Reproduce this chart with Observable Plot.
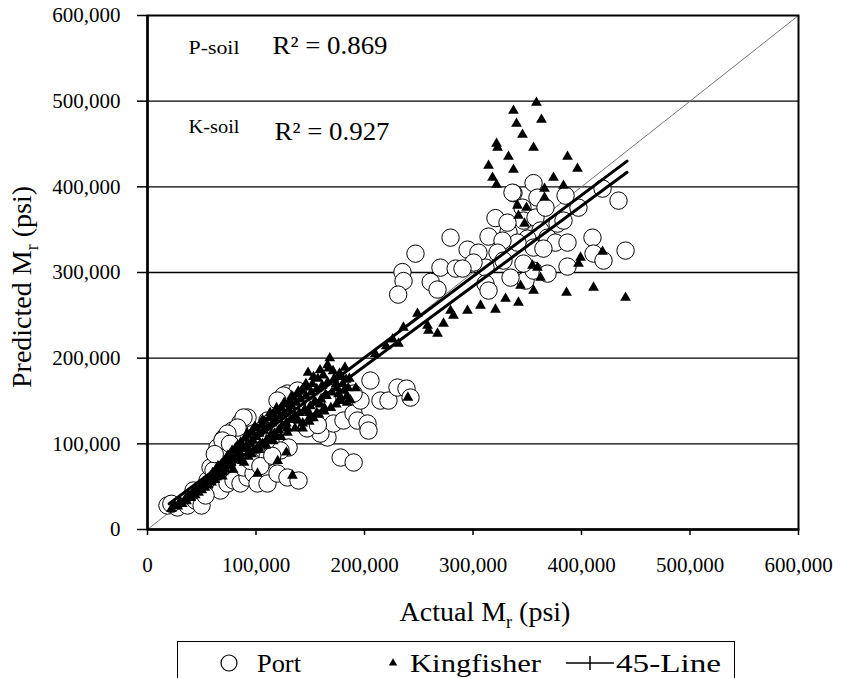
<!DOCTYPE html>
<html>
<head>
<meta charset="utf-8">
<script src="https://cdn.jsdelivr.net/npm/d3@7"></script>
<script src="https://cdn.jsdelivr.net/npm/@observablehq/plot@0.6"></script>
<style>
  html, body { margin: 0; padding: 0; background: white; }
  #wrap { position: relative; width: 841px; height: 678px; overflow: hidden; background: white; }
  #legend { position: absolute; left: 177px; top: 641px; width: 556px; height: 60px; border: 1.5px solid black; background: white; }
  svg text { font-family: "Liberation Serif", "Times New Roman", serif !important; }
</style>
</head>
<body>
<div id="wrap">
  <div id="chart"></div>
  <div id="legend"></div>
</div>
<script>
// ---- Data (values in thousands of psi) ----
const axisTicks = [0, 100, 200, 300, 400, 500, 600];
const gridLevels = [100, 200, 300, 400, 500];

// Port (P-soil) — open circles
const portActual = [
  247, 279.3, 235, 236, 231, 261, 267.3, 270, 284, 295, 305, 314.3, 320.7, 332.7, 337.3, 355.8, 359.4, 345.6, 346.5, 357.6,
  366.8, 362.2, 368.7, 350.2, 355.8, 341.0, 327.2, 322.6, 311.5, 300.5, 290.3, 311.5, 314.3, 348.4, 355.8, 368.7, 376.0, 387.1,
  387.1, 377.9, 385.3, 397.2, 383.4, 410.1, 411.1, 420.3, 419.4, 434.1, 440.6, 364.9, 346.5, 328.1, 334.6, 331.8, 336.4,
  18.4, 27.6, 36.9, 44.2, 42.4, 55.3, 58.1, 67.3, 64.5, 70.0, 78.3, 85.7, 92.2, 79.3, 85.7, 70.0, 67.3, 73.7, 79.3, 85.7,
  92.2, 88.5, 97.7, 106.9, 101.4, 110.6, 110.6, 116.1, 119.8, 129.0, 139.2, 113.4, 101.4, 110.6, 122.6, 129.0, 138.2, 138.2,
  152.9, 165.9, 165.9, 159.4, 171.4, 180.6, 189.9, 193.5, 196.3, 189.9, 205.5, 202.8, 203.7, 214.7, 222.1, 230.4, 238.7,
  178.0, 190.0, 49.8, 22.0, 60.8, 53.5, 242.4, 88.5, 83.0, 73.7, 69.1, 125.3, 119.8, 130.0, 122.6,
  62, 76, 95, 104, 115, 147, 157
];
const portPredicted = [
  322, 340.7, 300.5, 290, 274.2, 289, 280.1, 305.7, 304.6, 326.7, 323.2, 341.9, 363.5, 347.1, 392.6, 404.3, 387.4, 375.7, 360.6, 364.1,
  375.7, 349.0, 340.7, 339.6, 329.1, 334.9, 337.2, 323.2, 305.7, 311.6, 304.6, 287.0, 278.9, 290.5, 302.2, 298.7, 334.9, 334.9,
  306.9, 357.1, 389.7, 375.7, 360.6, 340.7, 322.1, 313.9, 397.9, 383.9, 325.6, 327.9, 310.4, 313.9, 294.0, 358.2, 393.2,
  28.0, 25.7, 28.0, 33.8, 45.5, 57.2, 72.4, 80.5, 95.7, 106.2, 115.5, 124.9, 130.7, 95.7, 107.4, 92.2, 45.5, 53.7, 57.2, 53.7,
  60.7, 72.4, 65.3, 65.3, 53.7, 53.7, 84.0, 92.2, 65.3, 60.7, 57.2, 102.7, 112.0, 127.2, 135.4, 158.7, 162.2, 147.0,
  142.4, 150.5, 107.4, 112.0, 123.7, 127.2, 135.4, 127.2, 150.5, 158.7, 173.9, 123.7, 115.5, 150.5, 150.5, 165.7, 164.5,
  84.0, 78.2, 28.0, 30.0, 68.9, 39.7, 154.0, 130.7, 119.0, 112.0, 103.9, 156.4, 150.5, 95.7, 92.2,
  88, 100, 80, 74, 86, 118, 122
];

// Kingfisher (K-soil) — filled triangles
const kingActual = [
  337.3, 358.5, 363.1, 340.1, 345.6, 321.7, 322.6, 355.8, 332.7, 314.3, 337.3, 387.1, 396.3, 374.2, 318.0, 321.7, 383.4, 365.9,
  365.9, 341.0, 349.3, 341.9, 347.5, 399.1, 397.2, 419.4, 359.4, 362.2, 354.8, 343.8, 355.8, 386.2, 411.1, 440.6, 330.0, 341.9,
  306.9, 320.7, 294.9, 279.3, 282.0, 272.8, 267.3, 258.1, 248.8, 235.9, 231.3, 259.0,
  22, 25, 28, 30, 32, 35, 36, 38, 40, 42, 44, 45, 47, 48, 50, 52, 53, 55, 56, 58, 59, 60, 62, 63, 64, 66, 67, 68, 70, 71, 72, 73,
  75, 76, 77, 78, 80, 81, 82, 83, 85, 86, 87, 88, 90, 91, 92, 93, 95, 96, 97, 98, 100, 101, 102, 103, 105, 106, 107, 108, 110,
  111, 112, 113, 115, 116, 117, 118, 120, 121, 122, 123, 125, 126, 127, 128, 130, 131, 132, 133, 135, 136, 137, 138, 140, 141,
  142, 143, 145, 146, 147, 148, 149, 150, 151, 152, 153, 155, 156, 157, 158, 160, 161, 162, 163, 165, 166, 167, 168, 169, 170,
  172, 174, 175, 177, 178, 180, 182, 184, 186,
  101.4, 133.6, 120, 128, 178, 184, 187, 192, 240, 210, 220, 226,
  84, 94, 104, 114, 124, 134, 144, 154, 164, 109, 119, 129, 139, 149, 159,
  92, 96, 99, 103, 106, 109, 113, 116, 119, 123, 126, 129, 133, 136, 139, 143, 146, 149, 153, 156, 159, 163, 166, 171, 174,
  176, 179, 181, 183, 185, 65, 69, 74, 79, 84, 89
];
const kingPredicted = [
  488.9, 498.2, 478.4, 473.7, 460.9, 450.4, 445.7, 445.7, 435.2, 424.7, 420.1, 435.2, 421.2, 410.7, 410.7, 402.6, 401.4, 397.9,
  387.4, 378.1, 375.7, 366.4, 357.1, 317.4, 310.4, 324.4, 305.7, 294.0, 308.1, 284.7, 278.9, 276.5, 282.4, 270.7, 269.5, 264.9,
  261.4, 256.7, 255.5, 255.5, 249.7, 240.4, 228.7, 238.0, 252.0, 235.7, 217.0, 232.2,
  24, 28, 27, 33, 30, 36, 33, 40, 37, 44, 40, 47, 43, 50, 46, 55, 49, 58, 52, 62, 55, 66, 58, 70, 61, 72, 64, 76, 67, 80, 70, 84,
  74, 88, 78, 92, 82, 95, 86, 98, 90, 102, 80, 94, 106, 97, 110, 85, 100, 114, 104, 92, 108, 118, 96, 112, 122, 100, 116, 126, 104,
  120, 130, 108, 124, 134, 112, 128, 138, 116, 132, 142, 120, 136, 146, 124, 140, 150, 128, 144, 154, 132, 148, 158, 136, 152,
  162, 118, 140, 156, 166, 183, 126, 144, 160, 170, 130, 148, 164, 176, 134, 152, 168, 180, 138, 156, 172, 188, 200, 142, 160,
  176, 146, 165, 182, 150, 170, 189, 156, 176,
  65.3, 63, 80, 90, 154, 148, 151, 165, 154, 205, 214, 222,
  84, 92, 100, 111, 121, 130, 138, 149, 157, 99, 109, 118, 127, 136, 146,
  112, 88, 120, 93, 128, 98, 136, 103, 142, 108, 148, 113, 156, 118, 161, 124, 170, 130, 178, 136, 186, 142, 192, 185, 170,
  158, 178, 162, 175, 165, 74, 62, 86, 70, 96, 78
];

// Regression trend lines and 45-degree line
const trendX = [20, 442];
const trendPortY = [22, 417];
const trendKingY = [30, 430];
const diagonal = [0, 600];

// Annotation texts
const soilLabels = ["P-soil", "K-soil"];
const r2Labels = ["R\u00B2 = 0.869", "R\u00B2 = 0.927"];

const port = portActual.map((x, i) => ({x, y: portPredicted[i]}));
const king = kingActual.map((x, i) => ({x, y: kingPredicted[i]}));
const trendP = trendX.map((x, i) => ({x, y: trendPortY[i]}));
const trendK = trendX.map((x, i) => ({x, y: trendKingY[i]}));
const diag = diagonal.map(v => ({x: v, y: v}));

const fmt = d => d3.format(",")(d * 1000);
const serif = "Liberation Serif";

const chart = Plot.plot({
  width: 841,
  height: 640,
  marginLeft: 147,
  marginRight: 43,
  marginTop: 15,
  marginBottom: 111,
  x: {domain: [0, 600]},
  y: {domain: [0, 600]},
  style: {fontFamily: serif, fontSize: "21px", color: "black", background: "white"},
  marks: [
    Plot.ruleY(gridLevels, {stroke: "black", strokeWidth: 1.3}),
    Plot.line(diag, {x: "x", y: "y", stroke: "#777", strokeWidth: 1}),
    Plot.dot(port, {x: "x", y: "y", r: 8.7, stroke: "black", fill: "white", strokeWidth: 1}),
    Plot.dot(king, {x: "x", y: "y", symbol: "triangle", r: 4, fill: "black", stroke: "none"}),
    Plot.line(trendP, {x: "x", y: "y", stroke: "black", strokeWidth: 3}),
    Plot.line(trendK, {x: "x", y: "y", stroke: "black", strokeWidth: 3}),
    Plot.frame({stroke: "black", strokeWidth: 2}),
    Plot.ruleX([0], {stroke: "black", strokeWidth: 2.5}),
    Plot.ruleY([0], {stroke: "black", strokeWidth: 2.5}),
    Plot.axisX({ticks: axisTicks, tickSize: 6, tickPadding: 22, tickFormat: fmt, label: null, strokeWidth: 1.5, fontSize: 21}),
    Plot.axisY({ticks: axisTicks, tickSize: 10, tickPadding: 17, tickFormat: fmt, label: null, strokeWidth: 1.5, fontSize: 21}),
    Plot.text([soilLabels[0]], {frameAnchor: "top-left", dx: 41, dy: 32, textAnchor: "start", lineAnchor: "middle", fontSize: 19}),
    Plot.text([r2Labels[0]], {frameAnchor: "top-left", dx: 125, dy: 30, textAnchor: "start", lineAnchor: "middle", fontSize: 25}),
    Plot.text([soilLabels[1]], {frameAnchor: "top-left", dx: 41, dy: 111, textAnchor: "start", lineAnchor: "middle", fontSize: 19}),
    Plot.text([r2Labels[1]], {frameAnchor: "top-left", dx: 127, dy: 116, textAnchor: "start", lineAnchor: "middle", fontSize: 25})
  ]
});
document.getElementById("chart").appendChild(chart);

const svg = d3.select(chart);
// stretch annotation widths to match the reference
const widths = {"P-soil": 51, "K-soil": 51, [r2Labels[0]]: 115, [r2Labels[1]]: 115};
svg.selectAll("text").each(function() {
  const w = widths[this.textContent];
  if (w) d3.select(this).attr("textLength", w).attr("lengthAdjust", "spacingAndGlyphs");
});

// Axis titles with subscript r
const xt = svg.append("text")
  .attr("x", 485).attr("y", 621)
  .attr("text-anchor", "middle")
  .attr("font-family", serif).attr("font-size", 28).attr("fill", "black");
xt.append("tspan").text("Actual M");
xt.append("tspan").attr("dy", 7).attr("font-size", 18).text("r");
xt.append("tspan").attr("dy", -7).text(" (psi)");

const yt = svg.append("text")
  .attr("transform", "translate(31,287) rotate(-90)")
  .attr("text-anchor", "middle")
  .attr("font-family", serif).attr("font-size", 28).attr("fill", "black");
yt.append("tspan").text("Predicted M");
yt.append("tspan").attr("dy", 7).attr("font-size", 18).text("r");
yt.append("tspan").attr("dy", -7).text(" (psi)");

// Legend (box cut off by the page bottom like the reference)
const leg = d3.select("#legend").append("svg").attr("width", 556).attr("height", 60);
const ly = 21;
const ltext = (x, s, w) => leg.append("text").attr("x", x).attr("y", ly).attr("dy", "0.35em")
  .attr("font-family", serif).attr("font-size", 25).attr("textLength", w).attr("lengthAdjust", "spacingAndGlyphs").text(s);
leg.append("circle").attr("cx", 51).attr("cy", ly).attr("r", 8).attr("fill", "white").attr("stroke", "black").attr("stroke-width", 1.2);
ltext(79, "Port", 44);
leg.append("path").attr("d", d3.symbol(d3.symbolTriangle, 30)()).attr("transform", `translate(215,${ly})`).attr("fill", "black");
ltext(232, "Kingfisher", 131);
leg.append("line").attr("x1", 388).attr("x2", 436).attr("y1", ly).attr("y2", ly).attr("stroke", "black").attr("stroke-width", 1.5);
leg.append("line").attr("x1", 412).attr("x2", 412).attr("y1", ly - 7).attr("y2", ly + 7).attr("stroke", "black").attr("stroke-width", 1.5);
ltext(438, "45-Line", 105);
</script>
</body>
</html>
